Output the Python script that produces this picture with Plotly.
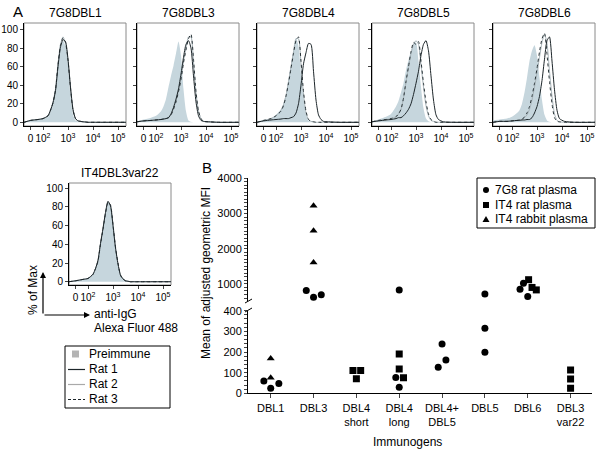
import plotly.graph_objects as go

# Flow histograms (A) - biexponential display units: 0 -> "0", 0.5 -> 10^2, 1.5 -> 10^3, 2.5 -> 10^4, 3.5 -> 10^5
chan = [-0.26, 0, 0.3, 0.5, 0.7, 0.8, 0.9, 1.0, 1.1, 1.2, 1.3, 1.4, 1.5, 1.6, 1.7, 1.8, 1.9, 2.0, 2.1, 2.2, 2.3, 2.4, 2.6, 3.0, 3.82]
chan_ticks = [0, 0.5, 1.5, 2.5, 3.5]
chan_labels = ["0", "10<sup>2</sup>", "10<sup>3</sup>", "10<sup>4</sup>", "10<sup>5</sup>"]

dbl1_pre = [0, 2, 3, 4, 6, 12, 20, 33, 60, 80, 88, 82, 62, 28, 8, 2, 1, 0.5, 0, 0, 0, 0, 0, 0, 0]
dbl1_rat1 = [0, 2, 3, 4, 7, 13, 21, 34, 60, 81, 89, 87, 68, 38, 14, 4, 1.5, 1, 0.5, 0.3, 0, 0, 0, 0, 0]
dbl1_rat2 = [0, 2, 3, 4, 7, 13, 22, 36, 63, 84, 92, 85, 66, 35, 12, 4, 1.5, 1, 0.5, 0.3, 0, 0, 0, 0, 0]
dbl1_rat3 = [0, 2, 3, 4, 7, 13, 21, 35, 62, 83, 91, 86, 67, 37, 13, 4, 1.5, 1, 0.5, 0.3, 0, 0, 0, 0, 0]

dbl3_pre = [1, 3, 5, 7, 12, 17, 25, 38, 50, 61, 74, 87, 72, 36, 12, 2, 0.5, 0, 0, 0, 0, 0, 0, 0, 0]
dbl3_rat1 = [0.5, 1.5, 2, 2.5, 3, 3.5, 4, 5, 9, 16, 25, 36, 52, 70, 84, 88, 80, 50, 22, 7, 2, 1, 0.5, 0, 0]
dbl3_rat2 = [0.5, 1.5, 2, 2.5, 3, 3.5, 4, 5, 8, 15, 23, 34, 47, 66, 80, 92, 92, 65, 32, 12, 4, 1, 0.5, 0, 0]
dbl3_rat3 = [0.5, 1.5, 2, 2.5, 3, 3.5, 4, 5, 8, 14, 22, 33, 46, 64, 78, 90, 95, 68, 33, 12, 4, 1, 0.5, 0, 0]

dbl4_pre = [0, 2, 4, 8, 14, 20, 31, 46, 62, 78, 91, 82, 52, 26, 9, 2, 0.5, 0, 0, 0, 0, 0, 0, 0, 0]
dbl4_rat1 = [0, 1.5, 2.5, 3, 3.5, 4, 4, 4, 5, 6, 10, 20, 40, 63, 75, 85, 84, 55, 24, 8, 3, 1, 0.5, 0, 0]
dbl4_rat2 = [0, 2, 4, 7, 13, 19, 29, 44, 60, 76, 90, 90, 62, 30, 10, 3, 1, 0.5, 0, 0, 0, 0, 0, 0, 0]
dbl4_rat3 = [0, 2, 4, 7, 12, 18, 28, 42, 58, 74, 88, 92, 66, 33, 12, 3, 1, 0.5, 0, 0, 0, 0, 0, 0, 0]

dbl5_pre = [1, 3, 6, 9, 17, 23, 32, 42, 56, 67, 77, 85, 86, 66, 38, 15, 4, 1, 0, 0, 0, 0, 0, 0, 0]
dbl5_rat1 = [0.5, 1.5, 2.5, 3, 4, 5, 5, 7, 10, 14, 20, 30, 42, 55, 72, 84, 88, 77, 50, 24, 8, 3, 0.5, 0, 0]
dbl5_rat2 = [0.5, 2, 3, 4, 6, 9, 14, 26, 43, 59, 74, 84, 88, 84, 62, 38, 18, 7, 2, 1, 0, 0, 0, 0, 0]
dbl5_rat3 = [0.5, 2, 3, 4, 6, 9, 14, 26, 44, 60, 76, 86, 84, 87, 66, 42, 22, 9, 3, 1, 0, 0, 0, 0, 0]

dbl6_pre = [2, 3, 4, 6, 10, 13, 20, 32, 48, 66, 77, 83, 72, 48, 24, 8, 2, 0.5, 0, 0, 0, 0, 0, 0, 0]
dbl6_rat1 = [0, 1, 1, 1.5, 2, 2, 2.5, 2.5, 3, 3, 5, 10, 17, 28, 45, 68, 88, 92, 66, 35, 13, 4, 1, 0, 0]
dbl6_rat2 = [0, 1, 1, 1.5, 2, 2.5, 3, 5, 8, 14, 24, 38, 53, 70, 86, 95, 85, 55, 28, 9, 2, 0.5, 0, 0, 0]
dbl6_rat3 = [0, 1, 1, 1.5, 2, 2.5, 3, 6, 10, 17, 28, 42, 58, 76, 90, 96, 73, 44, 20, 5, 1, 0.5, 0, 0, 0]

var22_pre = [0, 1, 2.5, 3.5, 8, 14, 23, 41, 57, 74, 86, 80, 60, 36, 19, 7, 3, 1, 0.5, 0, 0, 0, 0, 0, 0]
var22_rat1 = [0, 1, 2.5, 3.5, 8, 14, 23, 41, 57, 74, 86, 81, 60, 36, 19, 7, 3, 1, 0.5, 0, 0, 0, 0, 0, 0]
var22_rat2 = [0, 1, 2.5, 3.5, 8, 14, 22, 40, 56, 73, 84, 81, 61, 37, 19, 7, 3, 1, 0.5, 0, 0, 0, 0, 0, 0]
var22_rat3 = [0, 1, 2.5, 3.5, 8, 14, 22, 40, 56, 73, 85, 82, 61, 37, 20, 7, 3, 1, 0.5, 0, 0, 0, 0, 0, 0]

hist_titles = ["7G8DBL1", "7G8DBL3", "7G8DBL4", "7G8DBL5", "7G8DBL6", "IT4DBL3var22"]
hist_data = [
    (dbl1_pre, dbl1_rat1, dbl1_rat2, dbl1_rat3),
    (dbl3_pre, dbl3_rat1, dbl3_rat2, dbl3_rat3),
    (dbl4_pre, dbl4_rat1, dbl4_rat2, dbl4_rat3),
    (dbl5_pre, dbl5_rat1, dbl5_rat2, dbl5_rat3),
    (dbl6_pre, dbl6_rat1, dbl6_rat2, dbl6_rat3),
    (var22_pre, var22_rat1, var22_rat2, var22_rat3),
]
hist_legend = ["Preimmune", "Rat 1", "Rat 2", "Rat 3"]

# Panel B - mean of adjusted geometric MFI
immunogens = ["DBL1", "DBL3", "DBL4<br>short", "DBL4<br>long", "DBL4+<br>DBL5", "DBL5", "DBL6", "DBL3<br>var22"]

g7_cat = [0, 0, 0, 1, 1, 1, 3, 3, 3, 4, 4, 4, 5, 5, 5, 6, 6, 6]
g7_jit = [-0.16, 0, 0.19, -0.17, 0, 0.18, 0, -0.08, 0, -0.09, 0, 0.09, 0, 0, 0, -0.18, -0.1, 0]
g7_mfi = [60, 25, 48, 810, 620, 690, 830, 77, 29, 126, 239, 161, 716, 315, 199, 850, 1020, 640]

it4rat_cat = [2, 2, 2, 3, 3, 3, 6, 6, 6, 7, 7, 7]
it4rat_jit = [-0.08, 0.1, 0, 0, 0, 0.1, 0.02, 0.1, 0.2, 0, 0, 0]
it4rat_mfi = [110, 110, 70, 190, 118, 75, 1120, 900, 830, 113, 69, 24]

it4rab_cat = [0, 0, 1, 1, 1]
it4rab_jit = [0, 0, 0, 0, 0]
it4rab_mfi = [168, 75, 3220, 2510, 1610]

W = 600
H = 450
def px(v):
    return v / W
def py(v):
    return 1 - v / H

FONT = "Liberation Sans, Arial, sans-serif"
fill_col = "#c6d6dd"

fig = go.Figure()
layout = dict(
    width=W, height=H,
    margin=dict(l=0, r=0, t=0, b=0, autoexpand=False),
    plot_bgcolor="white", paper_bgcolor="white",
    font=dict(family=FONT, size=11, color="black"),
    showlegend=False,
)

# panel positions in pixels
hist_left = [24, 137, 257, 372, 493, 69]
hist_top = [23, 23, 23, 23, 23, 183]
hist_bot = [126, 126, 126, 126, 126, 285]
hist_w = 102

annotations = []
shapes = []

def label(text, x, y, size=12, angle=0, xanchor="center"):
    return dict(text=text, x=px(x), y=py(y), xref="paper", yref="paper", showarrow=False,
                textangle=angle, xanchor=xanchor, yanchor="middle", font=dict(size=size))

for i in range(6):
    n = i + 1
    xa = "x" if n == 1 else "x%d" % n
    ya = "y" if n == 1 else "y%d" % n
    pre, r1, r2, r3 = hist_data[i]
    fig.add_trace(go.Scatter(x=chan, y=pre, xaxis=xa, yaxis=ya, mode="lines", fill="tozeroy",
                             fillcolor=fill_col, line=dict(width=0, shape="spline", smoothing=0.6),
                             name="Preimmune"))
    fig.add_trace(go.Scatter(x=chan, y=r2, xaxis=xa, yaxis=ya, mode="lines",
                             line=dict(color="#a7b3b8", width=1, shape="spline", smoothing=0.6),
                             name="Rat 2"))
    fig.add_trace(go.Scatter(x=chan, y=r3, xaxis=xa, yaxis=ya, mode="lines",
                             line=dict(color="#2a3438", width=1, dash="dot", shape="spline", smoothing=0.6),
                             name="Rat 3"))
    fig.add_trace(go.Scatter(x=chan, y=r1, xaxis=xa, yaxis=ya, mode="lines",
                             line=dict(color="#1c2529", width=1, shape="spline", smoothing=0.6),
                             name="Rat 1"))

    x0 = hist_left[i]
    if n < 6:
        yr = [-4, 107]
    else:
        yr = [-3.5, 105.5]
    layout["xaxis" if n == 1 else "xaxis%d" % n] = dict(
        domain=[px(x0), px(x0 + hist_w)], anchor=ya, range=[-0.26, 3.82],
        tickvals=chan_ticks, ticktext=chan_labels, ticks="outside", ticklen=3, tickangle=0,
        showline=True, linecolor="black", linewidth=1, showgrid=False, zeroline=False,
        tickfont=dict(size=10), automargin=False,
    )
    layout["yaxis" if n == 1 else "yaxis%d" % n] = dict(
        domain=[py(hist_bot[i]), py(hist_top[i])], anchor=xa, range=yr,
        tickvals=[0, 20, 40, 60, 80, 100], ticks="outside", ticklen=3,
        showticklabels=(n == 1 or n == 6),
        showline=True, linecolor="black", linewidth=1, showgrid=False, zeroline=False,
        tickfont=dict(size=10), automargin=False,
    )
    shapes.append(dict(type="rect", xref=xa + " domain", yref=ya + " domain", x0=0, x1=1, y0=0, y1=1,
                       line=dict(color="#8a8a8a", width=1), layer="below"))
    annotations.append(label(hist_titles[i], x0 + hist_w / 2, 13 if n < 6 else 173))

# panel B traces, split over the broken axis
groups = [
    ("7G8 rat plasma", "circle", g7_cat, g7_jit, g7_mfi),
    ("IT4 rat plasma", "square", it4rat_cat, it4rat_jit, it4rat_mfi),
    ("IT4 rabbit plasma", "triangle-up", it4rab_cat, it4rab_jit, it4rab_mfi),
]
for name, sym, cats, jit, vals in groups:
    lo_x = [c + j for c, j, v in zip(cats, jit, vals) if v < 450]
    lo_y = [v for v in vals if v < 450]
    hi_x = [c + j for c, j, v in zip(cats, jit, vals) if v >= 450]
    hi_y = [v for v in vals if v >= 450]
    fig.add_trace(go.Scatter(x=lo_x, y=lo_y, xaxis="x7", yaxis="y7", mode="markers", name=name,
                             marker=dict(symbol=sym, size=7, color="black")))
    fig.add_trace(go.Scatter(x=hi_x, y=hi_y, xaxis="x7", yaxis="y8", mode="markers", name=name,
                             marker=dict(symbol=sym, size=7, color="black")))

# dense ruler-style ticks on the broken y axis, labels only on the round values
lo_ticks = list(range(0, 401, 20))
lo_text = [str(v) if v % 100 == 0 else "" for v in lo_ticks]
hi_ticks = list(range(600, 4001, 100))
hi_text = [str(v) if v % 1000 == 0 else "" for v in hi_ticks]

layout["xaxis7"] = dict(
    domain=[px(248), px(592)], anchor="y7", range=[-0.53, 7.5],
    tickvals=list(range(len(immunogens))), ticktext=immunogens, tickangle=0,
    ticks="outside", ticklen=4, showline=True, linecolor="black", linewidth=1,
    showgrid=False, zeroline=False, tickfont=dict(size=11), automargin=False,
)
layout["yaxis7"] = dict(
    domain=[py(393.3), py(310.7)], anchor="x7", range=[0, 400],
    tickvals=lo_ticks, ticktext=lo_text, ticks="outside", ticklen=3, tickwidth=1,
    showline=True, linecolor="black", linewidth=1, showgrid=False, zeroline=False,
    tickfont=dict(size=11), automargin=False,
)
layout["yaxis8"] = dict(
    domain=[py(301), py(178.3)], anchor="x7", range=[515, 4000],
    tickvals=hi_ticks, ticktext=hi_text, ticks="outside", ticklen=3, tickwidth=1,
    showline=True, linecolor="black", linewidth=1, showgrid=False, zeroline=False,
    tickfont=dict(size=11), automargin=False,
)

# axis break marks
shapes.append(dict(type="line", xref="paper", yref="paper", x0=px(245), x1=px(252), y0=py(303), y1=py(299),
                   line=dict(color="black", width=1)))
shapes.append(dict(type="line", xref="paper", yref="paper", x0=px(245), x1=px(252), y0=py(312), y1=py(308),
                   line=dict(color="black", width=1)))

annotations += [
    label("A", 18, 12, 15),
    label("B", 207, 168, 15),
    label("Mean of adjusted geometric MFI", 206, 273, 12, -90),
    label("% of Max", 33, 290, 12, -90),
    label("anti-IgG", 92, 314, 12, 0, "left"),
    label("Alexa Fluor 488", 92, 328, 12, 0, "left"),
    label("Immunogens", 407, 442, 12),
    # axis arrows
    dict(text="", x=px(43), y=py(272), xref="paper", yref="paper", ax=0, ay=43,
         showarrow=True, arrowhead=2, arrowsize=1, arrowwidth=1.2, arrowcolor="black"),
    dict(text="", x=px(90), y=py(315), xref="paper", yref="paper", ax=-47, ay=0,
         showarrow=True, arrowhead=2, arrowsize=1, arrowwidth=1.2, arrowcolor="black"),
]

# legend for the histograms (drawn by hand to keep the tight row spacing)
shapes.append(dict(type="rect", xref="paper", yref="paper", x0=px(65), x1=px(170), y0=py(408), y1=py(346),
                   line=dict(color="black", width=1), fillcolor="white"))
shapes.append(dict(type="rect", xref="paper", yref="paper", x0=px(72), x1=px(79), y0=py(357.5), y1=py(350.5),
                   line=dict(width=0), fillcolor="#b4b4b4"))
leg_styles = [("#1c2529", "solid"), ("#a9a9a9", "solid"), ("#1c2529", "3px,2px")]
for k, (col, dash) in enumerate(leg_styles):
    yy = 369.5 + 15 * k
    shapes.append(dict(type="line", xref="paper", yref="paper", x0=px(68), x1=px(85), y0=py(yy), y1=py(yy),
                       line=dict(color=col, width=1.2, dash=dash)))
for k, txt in enumerate(hist_legend):
    annotations.append(label(txt, 87, 354 + 15 * k, 12, 0, "left"))

# legend for panel B
shapes.append(dict(type="rect", xref="paper", yref="paper", x0=px(477), x1=px(595), y0=py(228), y1=py(178),
                   line=dict(color="black", width=1), fillcolor="white"))
shapes.append(dict(type="circle", xref="paper", yref="paper", x0=px(483), x1=px(489), y0=py(193), y1=py(187),
                   line=dict(width=0), fillcolor="black"))
shapes.append(dict(type="rect", xref="paper", yref="paper", x0=px(483), x1=px(489), y0=py(208), y1=py(202),
                   line=dict(width=0), fillcolor="black"))
shapes.append(dict(type="path", xref="paper", yref="paper",
                   path="M %f %f L %f %f L %f %f Z" % (px(482.5), py(222), px(489.5), py(222), px(486), py(216)),
                   line=dict(width=0), fillcolor="black"))
for k, (name, sym, cats, jit, vals) in enumerate(groups):
    annotations.append(label(name, 493, 190 + 14.5 * k, 12, 0, "left"))

layout["annotations"] = annotations
layout["shapes"] = shapes

fig.update_layout(**layout)
fig.write_html("out.html", config={"displayModeBar": False},
               post_script="document.body.style.margin='0px';")
